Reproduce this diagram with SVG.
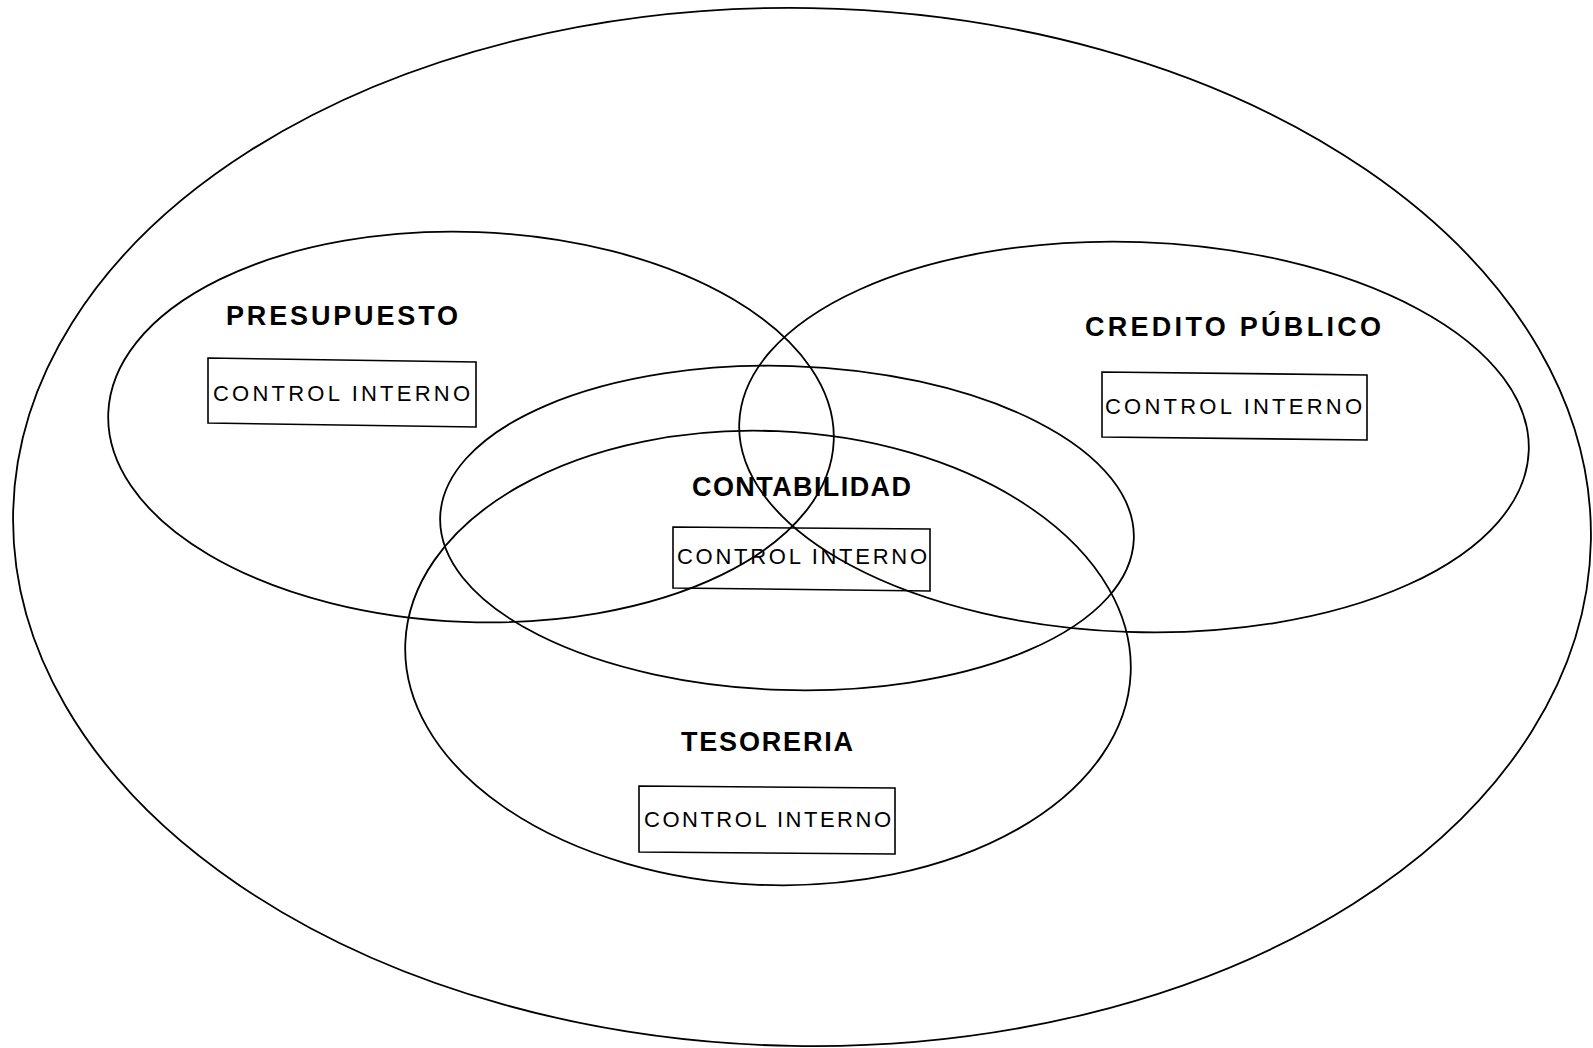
<svg xmlns="http://www.w3.org/2000/svg" width="1593" height="1048" viewBox="0 0 1593 1048">
<style>
.ring{fill:none;stroke:#000;stroke-width:1.8}
.box{fill:none;stroke:#000;stroke-width:1.6}
.title{font-family:"Liberation Sans",Arial,sans-serif;font-weight:bold;font-size:27px;fill:#000}
.ci{font-family:"Liberation Sans",Arial,sans-serif;font-size:22px;fill:#000}
</style>
<rect width="1593" height="1048" fill="#fff"/>
<g id="outer">
<ellipse class="ring" cx="802" cy="527" rx="789" ry="519" transform="rotate(1 802 527)"/>
</g>
<g id="presupuesto">
<ellipse class="ring" cx="471" cy="427" rx="363" ry="195" transform="rotate(2.2 471 427)"/>
<text class="title" x="226" y="325" textLength="232" lengthAdjust="spacing">PRESUPUESTO</text>
<polygon class="box" points="208,358 476,362 476,427 208,423"/>
<text class="ci" x="213" y="401" textLength="257" lengthAdjust="spacing">CONTROL INTERNO</text>
</g>
<g id="credito-publico">
<ellipse class="ring" cx="1134" cy="437" rx="395" ry="195" transform="rotate(2 1134 437)"/>
<text class="title" x="1085" y="336" textLength="296" lengthAdjust="spacing">CREDITO PÚBLICO</text>
<polygon class="box" points="1102,372 1367,375 1367,440 1102,437"/>
<text class="ci" x="1105" y="414" textLength="257" lengthAdjust="spacing">CONTROL INTERNO</text>
</g>
<g id="contabilidad">
<ellipse class="ring" cx="787" cy="528" rx="347" ry="162" transform="rotate(1.8 787 528)"/>
<text class="title" x="692" y="496" textLength="219" lengthAdjust="spacing">CONTABILIDAD</text>
<polygon class="box" points="673,527 930,529 930,591 673,588"/>
<text class="ci" x="677" y="564" textLength="250" lengthAdjust="spacing">CONTROL INTERNO</text>
</g>
<g id="tesoreria">
<ellipse class="ring" cx="768" cy="658" rx="363" ry="227" transform="rotate(2.4 768 658)"/>
<text class="title" x="681" y="751" textLength="172" lengthAdjust="spacing">TESORERIA</text>
<polygon class="box" points="639,786 895,788 895,854 639,852"/>
<text class="ci" x="644" y="827" textLength="247" lengthAdjust="spacing">CONTROL INTERNO</text>
</g>
<g id="connectors"/>
</svg>
